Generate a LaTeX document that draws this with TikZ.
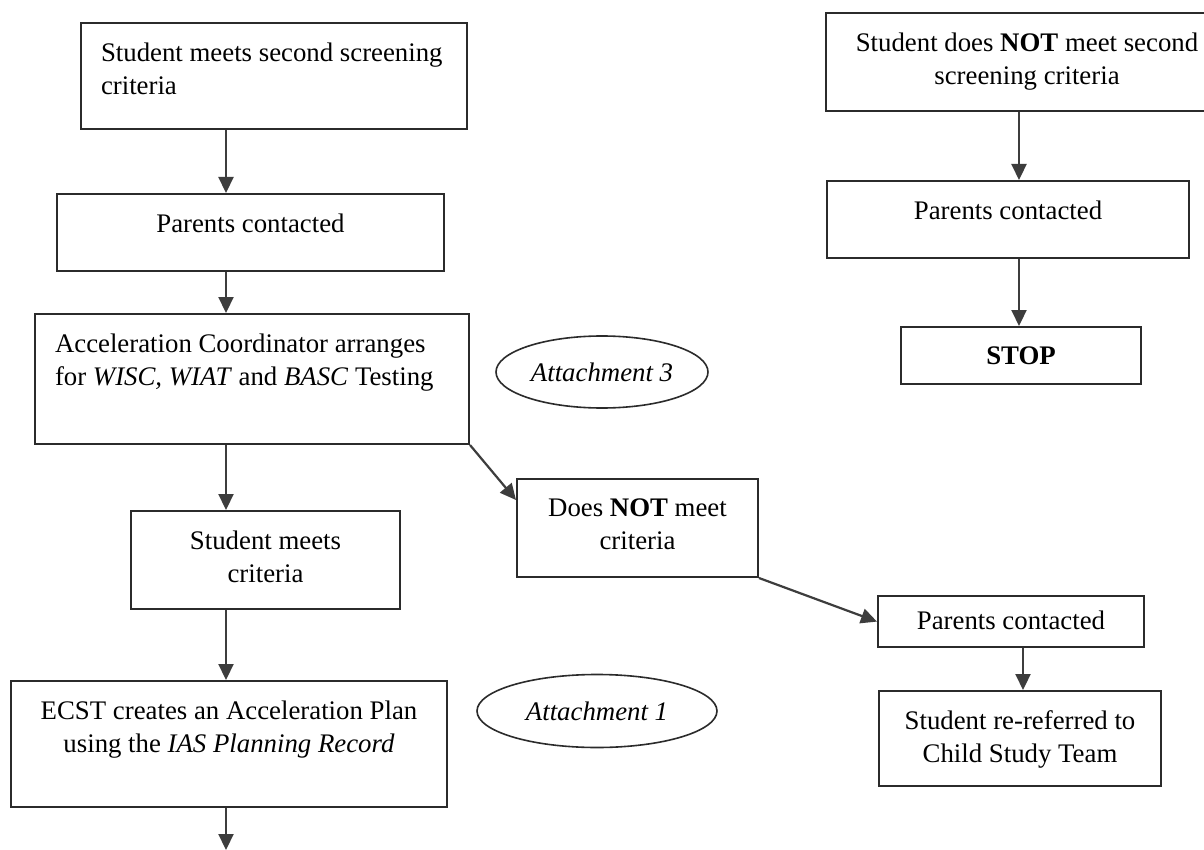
\documentclass[tikz,border=0pt]{standalone}
\usepackage{fontspec}
\setmainfont{Liberation Serif}
\usepackage{tikz}
\usetikzlibrary{shapes.geometric,arrows.meta,calc}
\definecolor{boxline}{HTML}{2B2B2B}
\definecolor{arrowline}{HTML}{3D3D3D}
% text of a step box: width and height in px, text at the top
\newcommand{\boxtext}[4][t]{\parbox[c][\dimexpr#3pt/2-20pt\relax][#1]{\dimexpr#2pt/2-20pt\relax}{\centering#4}}
\tikzstyle{stepbox} = [draw=boxline, line width=1pt, inner sep=10pt, anchor=north west]
\tikzstyle{attach} = [draw=boxline, line width=0.8pt, ellipse, inner sep=0pt, font=\fontsize{13.4}{16.5}\selectfont\itshape]
\tikzset{
  line/.style ={draw=arrowline, line width=1.1pt, -{Triangle[length=8pt,width=7.5pt]}, shorten >=0pt}
}

\begin{document}
\begin{tikzpicture}[x=0.5pt,y=-0.5pt, every node/.style={font=\fontsize{13.4}{16.5}\selectfont}]
  \useasboundingbox (0,0) rectangle (1204,850);
  \fill[white] (0,0) rectangle (1204,850);

  % left column
  \node[stepbox] (meets) at (80,22) {\boxtext{386}{106}{\raggedright Student meets second screening\\criteria}};
  \node[stepbox] (parents) at (56,193) {\boxtext{387}{77}{Parents contacted}};
  \node[stepbox] (testing) at (34,313) {\boxtext{434}{130}{\raggedright Acceleration Coordinator arranges\\for \textit{WISC, WIAT} and \textit{BASC} Testing}};
  \node[attach, minimum width=106pt, minimum height=36pt] (att3) at (602,372) {Attachment 3};
  \node[stepbox] (qualify) at (130,510) {\boxtext{269}{98}{Student meets\\criteria}};
  \node[stepbox] (notmeet) at (516,478) {\boxtext{241}{98}{Does \textbf{NOT} meet\\criteria}};
  \node[stepbox] (plan) at (10,680) {\boxtext{436}{126}{ECST creates an Acceleration Plan\\using the \textit{IAS Planning Record}}};
  \node[attach, minimum width=120pt, minimum height=36.5pt] (att1) at (597,711) {Attachment 1};

  % right column
  \node[stepbox] (nomeet) at (825,12) {\boxtext{402}{98}{Student does \textbf{NOT} meet second\\screening criteria}};
  \node[stepbox] (rparents) at (826,180) {\boxtext{362}{77}{Parents contacted}};
  \node[stepbox] (stop) at (900,326) {\boxtext[c]{240}{57}{\textbf{STOP}}};
  \node[stepbox] (reparents) at (877,595) {\boxtext[c]{266}{48}{Parents contacted}};
  \node[stepbox] (rerefer) at (878,690) {\boxtext{282}{95}{Student re-referred to\\Child Study Team}};

  \coordinate (lspine) at (226,0);
  \coordinate (rspine) at (1019,0);
  \coordinate (fgx) at (1023,0);
  \coordinate (planout) at (226,850);

  \begin{scope}[every path/.style=line]
    \path (lspine |- meets.south) -- (lspine |- parents.north);
    \path (lspine |- parents.south) -- (lspine |- testing.north);
    \path (lspine |- testing.south) -- (lspine |- qualify.north);
    \path (lspine |- qualify.south) -- (lspine |- plan.north);
    \path (lspine |- plan.south) -- (planout);
    \path (testing.south east) -- ($(notmeet.north west)!0.22!(notmeet.south west)$);
    \path (notmeet.south east) -- (reparents.west);
    \path (fgx |- reparents.south) -- (fgx |- rerefer.north);
    \path (rspine |- nomeet.south) -- (rspine |- rparents.north);
    \path (rspine |- rparents.south) -- (rspine |- stop.north);
  \end{scope}
\end{tikzpicture}
\end{document}
